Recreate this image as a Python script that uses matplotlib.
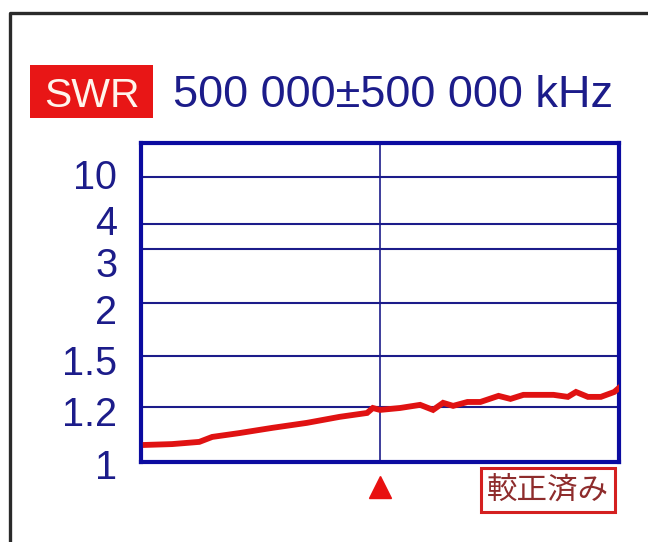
import numpy as np
import matplotlib
matplotlib.use("Agg")
import matplotlib.pyplot as plt
from matplotlib import font_manager
from matplotlib.patches import Rectangle
from matplotlib.lines import Line2D
from matplotlib.transforms import ScaledTranslation

# Sweep: centre 500 000 kHz, span ±500 000 kHz
center_khz = 500000
half_span_khz = 500000

# Measured SWR trace
freq_khz = [10000, 65000, 122000, 149000, 206000, 275000, 347000, 416000,
            473000, 485000, 500000, 542000, 584000, 611000, 632000, 653000,
            683000, 710000, 748000, 773000, 800000, 863000, 893000, 910000,
            935000, 962000, 990000, 1000000]
swr = [1.062, 1.065, 1.073, 1.091, 1.105, 1.124, 1.142, 1.164,
       1.178, 1.196, 1.189, 1.196, 1.212, 1.189, 1.224, 1.206,
       1.229, 1.229, 1.265, 1.247, 1.271, 1.271, 1.259, 1.288,
       1.259, 1.259, 1.288, 1.312]

# Analyzer SWR graticule: value stops and their vertical positions
swr_grid = [1, 1.2, 1.5, 2, 3, 4, 10]
swr_labels = ["1", "1.2", "1.5", "2", "3", "4", "10"]
scale_stops = [1, 1.2, 1.5, 2, 3, 4, 10, 15]
scale_pos = [0, 1.04, 2.0, 3.0, 4.02, 4.49, 5.38, 6.02]
# label centre offsets below each grid line (pixels)
label_center_px = [3, 5, 5, 7, 14, -3, -2]

status_text = "較正済み"

NAVY = "#1c1c8a"
BORDER = "#0b0ba0"
RED = "#e01212"

installed = {f.name for f in font_manager.fontManager.ttflist}
if "Liberation Sans Narrow" in installed:
    label_family, label_size = "Liberation Sans Narrow", 33
else:
    label_family, label_size = "Liberation Sans", 28.5
label_half_cap_px = 0.716 * label_size * 100 / 72 / 2


def fwd(v):
    return np.interp(v, scale_stops, scale_pos)


def inv(p):
    return np.interp(p, scale_pos, scale_stops)


fig = plt.figure(figsize=(6.48, 5.42), dpi=100)
fig.patch.set_facecolor("white")
W, H = 648, 542

# outer frame (top and left edges)
fig.add_artist(Line2D([10 / W, 10 / W, 1.0], [0.0, 1 - 13 / H, 1 - 13 / H],
                      transform=fig.transFigure, color="#2a2a2a", lw=2.4))

# header: SWR badge and sweep range
fig.add_artist(Rectangle((30 / W, 1 - 118 / H), 123 / W, 53 / H,
                         transform=fig.transFigure, facecolor="#e81616",
                         edgecolor="none"))
fig.text(91.5 / W, 1 - 107 / H, "SWR", color="#fff4ec", fontsize=29.5,
         family="Liberation Sans", ha="center", va="baseline")
fig.text(173 / W, 1 - 107 / H,
         f"{center_khz:,}".replace(",", " ") + "±" +
         f"{half_span_khz:,}".replace(",", " ") + " kHz",
         color=NAVY, fontsize=32.5, family="Liberation Sans",
         ha="left", va="baseline")

ax = fig.add_axes([141 / W, 1 - 462 / H, 478 / W, 319 / H])
ax.set_yscale("function", functions=(fwd, inv))
ax.set_ylim(1, 15)
ax.set_xlim(center_khz - half_span_khz, center_khz + half_span_khz)

for v in swr_grid[1:]:
    ax.axhline(v, color=NAVY, lw=1.5, zorder=1)
ax.axvline(center_khz, color=NAVY, lw=1.2, zorder=1)

ax.plot(freq_khz, swr, color=RED, lw=4.2, solid_joinstyle="miter", zorder=3)

ax.set_xticks([])
ax.set_yticks([])
for s in ax.spines.values():
    s.set_color(BORDER)
    s.set_linewidth(3.0)

# tick labels, stacked to the left of the graticule
ytrans = ax.get_yaxis_transform()
for v, lab, dc in zip(swr_grid, swr_labels, label_center_px):
    dy = dc + label_half_cap_px
    tr = ytrans + ScaledTranslation(0, -dy / 100, fig.dpi_scale_trans)
    ax.text(-0.05, v, lab, transform=tr, ha="right", va="baseline",
            color=NAVY, fontsize=label_size, family=label_family,
            clip_on=False)

# centre-frequency marker
ax.plot([center_khz], [-0.078], marker="^", ms=16, color="#e81010",
        mec="#e81010", transform=ax.get_xaxis_transform(), clip_on=False)

# calibration status box
ax.text(0.852, -0.088, status_text, transform=ax.transAxes,
        ha="center", va="center", fontsize=22, color="#8e2c2c",
        family=["Noto Sans CJK JP", "DejaVu Sans"], clip_on=False,
        bbox=dict(boxstyle="square,pad=0.2", facecolor="white",
                  edgecolor="#d42020", linewidth=2.2))

fig.savefig("out.png", dpi=100, facecolor="white")
